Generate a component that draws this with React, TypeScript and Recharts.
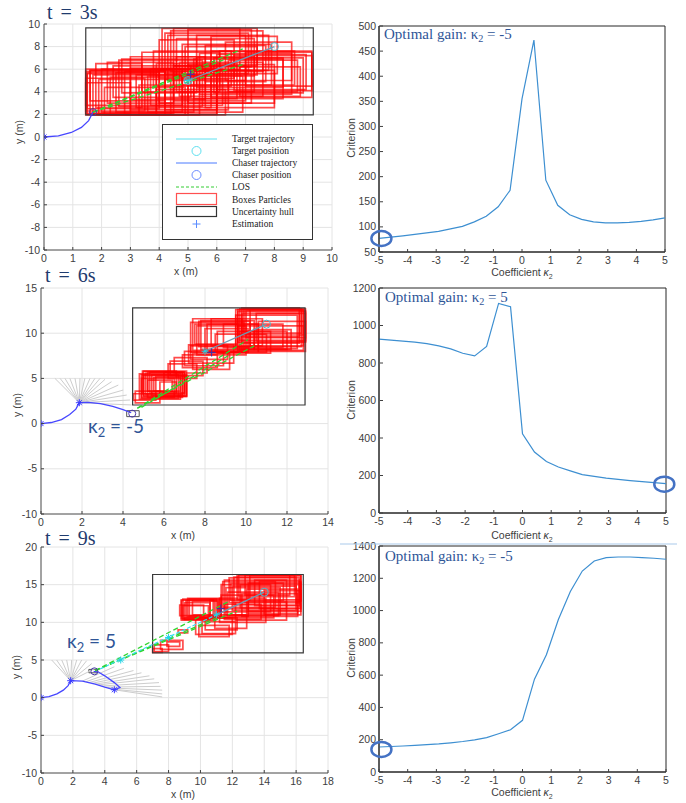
import React from "react";
import {
  ComposedChart,
  LineChart,
  Line,
  Scatter,
  XAxis,
  YAxis,
  CartesianGrid,
  ReferenceArea,
  ReferenceLine,
  ReferenceDot,
} from "recharts";

type Box = [number, number, number, number];
type Pt = { x: number; y: number };

// ---- right column: criterion vs coefficient kappa_2 ----
const kappa = [
  -5, -4.583, -4.167, -3.75, -3.333, -2.917, -2.5, -2.083, -1.667, -1.25, -0.833, -0.417, 0,
  0.417, 0.833, 1.25, 1.667, 2.083, 2.5, 2.917, 3.333, 3.75, 4.167, 4.583, 5,
];
const criterion3s = [
  77, 79.5, 82, 85, 88, 91, 96, 101, 110, 121, 140, 173, 355, 472, 193, 143, 124, 115, 110, 108,
  108, 109, 111, 114, 118,
];
const criterion6s = [
  927, 922, 917, 911, 903, 891, 875, 852, 838, 888, 1118, 1100, 422, 325, 275, 245, 225, 205, 195,
  186, 179, 173, 167, 162, 157,
];
const criterion9s = [
  155, 158, 161, 165, 169, 174, 181, 189, 199, 213, 237, 262, 320, 575, 726, 945, 1118, 1245, 1307,
  1328, 1332, 1332, 1328, 1324, 1318,
];
const kTicks = [-5, -4, -3, -2, -1, 0, 1, 2, 3, 4, 5];
const critTicks3 = [50, 100, 150, 200, 250, 300, 350, 400, 450, 500];
const critTicks6 = [0, 200, 400, 600, 800, 1000, 1200];
const critTicks9 = [0, 200, 400, 600, 800, 1000, 1200, 1400];

// ---- left column: scene at t = 3s / 6s / 9s ----
const xTicks3 = [0, 1, 2, 3, 4, 5, 6, 7, 8, 9, 10];
const yTicks3 = [-10, -8, -6, -4, -2, 0, 2, 4, 6, 8, 10];
const xTicks6 = [0, 2, 4, 6, 8, 10, 12, 14];
const yTicks6 = [-10, -5, 0, 5, 10, 15];
const xTicks9 = [0, 2, 4, 6, 8, 10, 12, 14, 16, 18];
const yTicks9 = [-10, -5, 0, 5, 10, 15, 20];

const hull3: Box = [1.45, 1.95, 9.35, 9.65];
const boxes3: Box[] = [
  [1.45, 1.95, 4.2, 5.8], [1.5, 2.0, 3.9, 5.6], [1.6, 2.1, 4.5, 5.9], [1.45, 2.3, 3.5, 5.2],
  [1.7, 1.95, 5.0, 5.5], [2.0, 2.2, 5.2, 6.0], [2.3, 1.95, 5.4, 5.3], [2.8, 2.0, 6.0, 5.8],
  [3.0, 2.4, 6.0, 6.1], [3.3, 2.0, 6.0, 4.6], [1.8, 2.6, 3.4, 6.5], [2.2, 3.0, 4.5, 6.6],
  [2.6, 2.7, 5.5, 6.8], [1.45, 2.8, 4.8, 6.0], [3.6, 2.2, 6.9, 5.4], [4.0, 3.0, 7.2, 5.9],
  [4.2, 2.4, 6.4, 5.1], [3.9, 3.4, 6.7, 6.5], [3.0, 3.3, 5.6, 7.1], [4.7, 3.6, 7.6, 6.6],
  [5.0, 3.0, 8.0, 6.4], [5.4, 3.8, 8.6, 7.4], [5.8, 3.5, 9.3, 7.6], [6.0, 4.2, 9.1, 7.3],
  [5.3, 4.4, 8.3, 7.0], [6.4, 4.0, 8.8, 6.8], [7.0, 4.5, 9.3, 7.5], [4.8, 4.6, 7.9, 8.2],
  [4.3, 5.0, 7.0, 9.0], [4.0, 5.2, 6.6, 8.6], [4.4, 5.8, 7.6, 9.4], [4.1, 6.0, 6.8, 9.6],
  [5.0, 6.2, 7.2, 9.5], [5.8, 5.6, 8.1, 8.9], [4.9, 5.5, 7.4, 8.0], [6.3, 5.0, 8.6, 8.4],
  [3.4, 4.0, 6.1, 7.5], [2.4, 3.5, 5.1, 6.3], [6.8, 3.6, 8.9, 6.2], [5.6, 2.6, 8.0, 5.9],
  [3.9, 1.95, 6.3, 4.2], [2.1, 1.95, 4.9, 4.4],
  [1.45, 2.1, 3.0, 4.8], [1.5, 2.5, 4.0, 5.7], [1.9, 2.0, 4.4, 5.1], [2.5, 2.2, 4.8, 5.7],
  [3.2, 2.6, 5.8, 5.5], [3.7, 2.8, 6.2, 6.0], [4.5, 3.2, 7.0, 6.3], [5.2, 3.4, 8.3, 6.9],
  [5.9, 3.9, 9.0, 7.0], [6.6, 4.1, 9.3, 7.2], [4.6, 5.4, 7.3, 8.7], [4.2, 5.6, 7.1, 9.2],
  [4.5, 6.3, 7.4, 9.6], [5.3, 5.9, 7.8, 9.0], [3.8, 4.5, 6.5, 7.6], [2.7, 3.9, 5.3, 6.9],
  [1.6, 3.2, 4.2, 5.9], [6.1, 4.6, 8.7, 7.6], [5.6, 4.9, 7.7, 8.1], [4.6, 4.0, 7.3, 7.1],
];
const path3: Pt[] = [
  { x: 0, y: 0 }, { x: 0.5, y: 0.1 }, { x: 0.95, y: 0.4 }, { x: 1.3, y: 0.85 },
  { x: 1.55, y: 1.45 }, { x: 1.7, y: 2.2 },
];
const stars3: Pt[] = [{ x: 0, y: 0 }];
const chaserRing3: Pt[] = [{ x: 1.7, y: 2.2 }];
const los3: Box[] = [[1.7, 2.2, 6.9, 7.8], [1.7, 2.2, 6.9, 6.4], [1.7, 2.2, 6.4, 7.0]];
const targetNext3: Pt[] = [{ x: 5, y: 5 }, { x: 8, y: 8 }];
const targetStars3: Pt[] = [{ x: 5, y: 5 }];
const targetRings3: Pt[] = [{ x: 5, y: 5 }, { x: 8, y: 8 }];
const estimate3: Pt[] = [{ x: 5.09, y: 5.55 }];

const hull6: Box = [4.47, 2.06, 12.88, 12.8];
const boxes6: Box[] = [
  [4.5, 2.6, 5.6, 3.3], [4.6, 2.3, 5.8, 3.6], [4.9, 2.8, 6.7, 5.4], [5.0, 3.0, 7.1, 5.8],
  [5.1, 3.2, 6.9, 5.6], [4.9, 2.9, 6.5, 5.0], [5.3, 3.4, 7.0, 5.7], [5.6, 3.0, 7.1, 5.2],
  [5.2, 3.6, 6.4, 4.8], [5.8, 3.5, 6.6, 4.6], [6.2, 5.0, 7.6, 6.6], [6.5, 5.6, 8.1, 7.3],
  [6.9, 6.2, 8.6, 7.6], [7.4, 6.0, 9.2, 7.8], [7.2, 6.7, 9.4, 8.7], [7.3, 7.9, 9.9, 11.2],
  [7.6, 7.6, 10.0, 10.8], [7.8, 8.2, 10.4, 11.4], [8.0, 7.9, 10.1, 10.5], [8.3, 8.6, 10.8, 11.6],
  [7.5, 8.8, 9.6, 11.0], [8.6, 7.8, 11.2, 10.2], [9.6, 8.1, 12.8, 10.8], [9.5, 8.5, 12.7, 12.6],
  [9.7, 9.2, 12.9, 12.7], [9.8, 8.9, 12.6, 12.2], [10.0, 9.5, 12.9, 12.5], [10.4, 8.2, 12.2, 10.4],
  [9.6, 9.8, 12.8, 12.6], [9.9, 10.0, 12.7, 12.7], [8.9, 8.4, 11.8, 11.0], [10.6, 8.0, 12.9, 11.3],
  [4.8, 2.7, 6.8, 5.5], [5.0, 3.1, 7.0, 5.3], [5.2, 2.9, 6.9, 5.7], [4.95, 3.3, 6.6, 5.8],
  [5.4, 3.1, 7.1, 5.4], [5.5, 3.6, 6.8, 5.1], [6.0, 3.3, 7.0, 5.7], [6.3, 5.3, 7.9, 6.9],
  [7.0, 6.4, 8.9, 8.0], [7.3, 7.1, 9.1, 8.6], [7.4, 8.1, 9.8, 11.6], [7.7, 8.5, 10.2, 11.3],
  [8.1, 8.0, 10.6, 11.0], [9.5, 8.3, 12.5, 12.0], [9.6, 9.0, 12.9, 12.4], [10.2, 8.6, 12.8, 12.6],
  [9.8, 9.6, 12.6, 12.8], [10.5, 9.1, 12.9, 12.2], [9.7, 8.2, 12.0, 10.2], [8.5, 7.9, 11.0, 9.9],
];
const path6: Pt[] = [
  { x: 0, y: 0 }, { x: 0.5, y: 0.12 }, { x: 1.0, y: 0.45 }, { x: 1.4, y: 1.0 }, { x: 1.7, y: 1.6 },
  { x: 1.87, y: 2.31 }, { x: 2.3, y: 2.35 }, { x: 2.9, y: 2.2 }, { x: 3.5, y: 1.9 },
  { x: 4.0, y: 1.55 }, { x: 4.4, y: 1.2 },
];
const stars6: Pt[] = [{ x: 0, y: 0 }, { x: 1.87, y: 2.31 }];
const chaserBox6: Box = [4.18, 0.77, 4.79, 1.43];
const chaserRing6: Pt[] = [{ x: 4.45, y: 1.1 }];
const fans6: Box[] = [
  [1.87, 2.31, 0.68, 5], [1.87, 2.31, 0.93, 5], [1.87, 2.31, 1.17, 5], [1.87, 2.31, 1.41, 5],
  [1.87, 2.31, 1.66, 5], [1.87, 2.31, 1.9, 5], [1.87, 2.31, 2.14, 5], [1.87, 2.31, 2.39, 5],
  [1.87, 2.31, 2.63, 5], [1.87, 2.31, 2.88, 5], [1.87, 2.31, 3.12, 4.89], [1.87, 2.31, 3.44, 4.63],
  [1.87, 2.31, 3.77, 4.26], [1.87, 2.31, 4.01, 3.71], [1.87, 2.31, 4.18, 3.16], [1.87, 2.31, 4.34, 2.61],
  [1.87, 2.31, 4.42, 2.06],
];
const los6: Box[] = [[4.7, 1.7, 10.1, 9.3], [4.7, 1.7, 10.4, 8.6], [4.9, 1.8, 9.2, 7.6]];
const targetNext6: Pt[] = [{ x: 8, y: 8 }, { x: 11, y: 11 }];
const targetStars6: Pt[] = [{ x: 8, y: 8 }];
const targetRings6: Pt[] = [{ x: 11, y: 11 }];
const estimate6: Pt[] = [{ x: 8.32, y: 7.87 }];

const hull9: Box = [7.0, 5.95, 16.45, 16.35];
const boxes9: Box[] = [
  [7.0, 6.0, 7.6, 6.5], [7.1, 6.1, 8.0, 7.0], [7.5, 6.4, 8.9, 7.6], [7.9, 6.8, 8.7, 7.4],
  [8.6, 8.6, 9.2, 9.0], [8.8, 10.3, 10.9, 12.9], [8.9, 10.6, 11.0, 13.1], [9.0, 10.4, 10.6, 12.6],
  [9.2, 10.8, 11.3, 13.2], [8.7, 10.9, 10.2, 12.3], [9.5, 11.0, 11.1, 12.8], [9.7, 8.4, 12.0, 10.6],
  [9.9, 8.1, 11.8, 9.6], [10.3, 9.0, 12.3, 10.6], [10.9, 9.2, 12.9, 11.0], [11.2, 10.0, 14.1, 13.2],
  [11.3, 11.4, 14.4, 15.0], [11.4, 12.0, 14.7, 15.4], [11.6, 11.0, 15.0, 14.6], [11.8, 12.6, 16.2, 15.9],
  [12.3, 13.0, 16.3, 16.2], [12.0, 11.6, 16.0, 14.8], [12.6, 10.8, 16.1, 13.8], [13.0, 11.5, 16.3, 15.2],
  [13.4, 12.2, 16.2, 15.6], [11.5, 10.4, 13.8, 12.4], [14.0, 11.0, 16.3, 14.2], [12.8, 13.6, 15.6, 16.3],
  [11.9, 12.9, 15.2, 15.2], [10.6, 10.8, 13.0, 13.0], [12.2, 10.3, 15.4, 12.7],
  [8.8, 10.5, 10.8, 13.0], [9.1, 10.7, 11.1, 12.9], [8.9, 10.4, 10.5, 12.2], [9.3, 10.9, 11.2, 13.1],
  [11.3, 10.6, 14.6, 13.6], [11.5, 11.8, 15.4, 15.6], [12.1, 12.3, 16.0, 16.0], [12.5, 11.9, 16.2, 15.0],
  [13.1, 12.8, 16.3, 16.2], [11.7, 10.9, 14.9, 14.0], [12.9, 11.2, 16.1, 14.4], [13.7, 11.8, 16.3, 15.4],
  [12.4, 13.4, 15.9, 16.3], [10.1, 8.5, 12.2, 10.1],
];
const path9: Pt[] = [
  { x: 0, y: 0 }, { x: 0.5, y: 0.15 }, { x: 1.0, y: 0.5 }, { x: 1.4, y: 1.0 }, { x: 1.7, y: 1.6 },
  { x: 1.86, y: 2.25 }, { x: 2.6, y: 2.2 }, { x: 3.4, y: 1.8 }, { x: 4.0, y: 1.4 }, { x: 4.6, y: 1.05 },
  { x: 4.95, y: 1.35 }, { x: 4.6, y: 2.0 }, { x: 4.0, y: 2.9 }, { x: 3.6, y: 3.4 }, { x: 3.3, y: 3.5 },
];
const stars9: Pt[] = [{ x: 0, y: 0 }, { x: 1.86, y: 2.25 }, { x: 4.6, y: 1.05 }];
const chaserBox9: Box = [3.0, 3.3, 3.5, 3.75];
const chaserRing9: Pt[] = [{ x: 3.35, y: 3.5 }];
const fans9: Box[] = [
  [1.86, 2.25, 0.67, 5], [1.86, 2.25, 0.98, 5], [1.86, 2.25, 1.3, 5], [1.86, 2.25, 1.61, 5],
  [1.86, 2.25, 1.92, 5], [1.86, 2.25, 2.24, 5], [1.86, 2.25, 2.55, 5], [1.86, 2.25, 2.86, 4.9],
  [1.86, 2.25, 3.18, 4.52], [1.86, 2.25, 3.38, 3.86],
  [2.6, 2.2, 4.6, 4.1], [2.8, 2.1, 5.2, 3.9], [3.0, 2.0, 5.8, 3.6], [3.2, 1.9, 6.3, 3.3],
  [3.4, 1.8, 6.8, 2.9], [3.6, 1.7, 7.1, 2.5], [3.8, 1.55, 7.4, 2.0], [4.0, 1.4, 7.5, 1.5],
  [4.2, 1.3, 7.6, 1.0], [4.4, 1.15, 7.6, 0.5], [4.6, 1.05, 7.6, 0.1],
];
const los9: Box[] = [[3.4, 3.6, 11.8, 12.8], [3.4, 3.6, 12.3, 11.5], [3.4, 3.6, 11.0, 10.6]];
const targetPast9: Pt[] = [{ x: 3.7, y: 3.8 }, { x: 11, y: 11 }];
const targetNext9: Pt[] = [{ x: 11, y: 11 }, { x: 14, y: 14 }];
const targetStars9: Pt[] = [{ x: 5, y: 5 }, { x: 8, y: 8 }, { x: 11, y: 11 }];
const targetRings9: Pt[] = [{ x: 14, y: 14 }];
const estimate9: Pt[] = [{ x: 11.28, y: 11.82 }];

const legendItems = [
  "Target trajectory",
  "Target position",
  "Chaser trajectory",
  "Chaser position",
  "LOS",
  "Boxes Particles",
  "Uncertainty hull",
  "Estimation",
];

const SANS = "'Liberation Sans', Arial, sans-serif";
const SERIF = "'Liberation Serif', 'Times New Roman', serif";
const AXIS = "#404040";
const NOTE = "#2f5597";

const makeXTick = (m: number) => (p: any) => (
  <g>
    <line x1={p.x} x2={p.x} y1={p.y - m} y2={p.y - m - 3} stroke={AXIS} />
    <text x={p.x} y={p.y + 8} textAnchor="middle" fontSize={10.5} fill={AXIS} fontFamily={SANS}>
      {p.payload.value}
    </text>
  </g>
);
const yTick = (p: any) => (
  <g>
    <line x1={p.x + 4} x2={p.x + 7} y1={p.y} y2={p.y} stroke={AXIS} />
    <text x={p.x} y={p.y + 3.5} textAnchor="end" fontSize={10.5} fill={AXIS} fontFamily={SANS}>
      {p.payload.value}
    </text>
  </g>
);

const asterisk = (color: string) => (p: any) => (
  <g stroke={color} strokeWidth={1}>
    <line x1={p.cx - 3.5} y1={p.cy} x2={p.cx + 3.5} y2={p.cy} />
    <line x1={p.cx} y1={p.cy - 3.5} x2={p.cx} y2={p.cy + 3.5} />
    <line x1={p.cx - 2.5} y1={p.cy - 2.5} x2={p.cx + 2.5} y2={p.cy + 2.5} />
    <line x1={p.cx - 2.5} y1={p.cy + 2.5} x2={p.cx + 2.5} y2={p.cy - 2.5} />
  </g>
);
const ring = (color: string, r: number) => (p: any) => (
  <circle cx={p.cx} cy={p.cy} r={r} fill="none" stroke={color} strokeWidth={1} />
);
const plus = (color: string) => (p: any) => (
  <g stroke={color} strokeWidth={1.2}>
    <line x1={p.cx - 4} y1={p.cy} x2={p.cx + 4} y2={p.cy} />
    <line x1={p.cx} y1={p.cy - 4} x2={p.cx} y2={p.cy + 4} />
  </g>
);

interface TrackProps {
  top: number;
  height: number;
  marginTop: number;
  yw: number;
  right: number;
  xMax: number;
  xTicks: number[];
  yMin: number;
  yMax: number;
  yTicks: number[];
  hull: Box;
  boxes: Box[];
  fans: Box[];
  los: Box[];
  path: Pt[];
  stars: Pt[];
  chaserRing: Pt[];
  chaserBox?: Box;
  targetPast?: Pt[];
  targetNext: Pt[];
  targetStars: Pt[];
  targetRings: Pt[];
  estimate: Pt[];
}

function TrackPanel(p: TrackProps) {
  return (
    <div style={{ position: "absolute", left: 0, top: p.top }}>
      <ComposedChart
        width={340}
        height={p.height}
        margin={{ top: p.marginTop, right: p.right, bottom: 0, left: 0 }}
      >
        <CartesianGrid stroke="#e4e4e4" />
        <XAxis
          type="number"
          dataKey="x"
          domain={[0, p.xMax]}
          ticks={p.xTicks}
          interval={0}
          allowDataOverflow
          height={30}
          tickSize={0}
          tickMargin={4}
          tick={makeXTick(4)}
          stroke="#555"
        />
        <YAxis
          type="number"
          dataKey="y"
          domain={[p.yMin, p.yMax]}
          ticks={p.yTicks}
          interval={0}
          allowDataOverflow
          width={p.yw}
          tickSize={0}
          tickMargin={4}
          tick={yTick}
          stroke="#555"
        />
        {p.fans.map((f, i) => (
          <ReferenceLine
            key={"f" + i}
            segment={[{ x: f[0], y: f[1] }, { x: f[2], y: f[3] }]}
            stroke="#cdcdcd"
            strokeWidth={1}
          />
        ))}
        {p.boxes.map((b, i) => (
          <ReferenceArea
            key={"b" + i}
            x1={b[0]}
            y1={b[1]}
            x2={b[2]}
            y2={b[3]}
            fill="none"
            stroke="#ff0000"
            strokeOpacity={0.7}
            strokeWidth={1.7}
          />
        ))}
        <ReferenceArea
          x1={p.hull[0]}
          y1={p.hull[1]}
          x2={p.hull[2]}
          y2={p.hull[3]}
          fill="none"
          stroke="#3a3a3a"
          strokeWidth={1.2}
        />
        {p.chaserBox && (
          <ReferenceArea
            x1={p.chaserBox[0]}
            y1={p.chaserBox[1]}
            x2={p.chaserBox[2]}
            y2={p.chaserBox[3]}
            fill="none"
            stroke="#555"
            strokeWidth={1}
          />
        )}
        {p.los.map((l, i) => (
          <ReferenceLine
            key={"l" + i}
            segment={[{ x: l[0], y: l[1] }, { x: l[2], y: l[3] }]}
            stroke="#2fd42f"
            strokeWidth={1.3}
            strokeDasharray="5 3"
          />
        ))}
        <Line data={p.path} dataKey="y" type="linear" stroke="#4646ff" strokeWidth={1.3} dot={false} isAnimationActive={false} />
        {p.targetPast && (
          <Line data={p.targetPast} dataKey="y" type="linear" stroke="#33e0f0" strokeWidth={1.2} strokeDasharray="4 2" dot={false} isAnimationActive={false} />
        )}
        <Line data={p.targetNext} dataKey="y" type="linear" stroke="#6d9cb5" strokeWidth={1.3} dot={false} isAnimationActive={false} />
        <Scatter data={p.stars} shape={asterisk("#3a3aff")} isAnimationActive={false} />
        <Scatter data={p.chaserRing} shape={ring("#4a3aa8", 3.5)} isAnimationActive={false} />
        <Scatter data={p.targetStars} shape={asterisk("#22d3e6")} isAnimationActive={false} />
        <Scatter data={p.targetRings} shape={ring("#4fb8cc", 4)} isAnimationActive={false} />
        <Scatter data={p.estimate} shape={plus("#4b2fa0")} isAnimationActive={false} />
      </ComposedChart>
    </div>
  );
}

interface CritProps {
  top: number;
  height: number;
  marginTop: number;
  right: number;
  values: number[];
  yMin: number;
  yMax: number;
  yTicks: number[];
  best: Pt;
  shift: number;
}

function CriterionPanel(p: CritProps) {
  const data = kappa.map((k, i) => ({ k, c: p.values[i] }));
  return (
    <div style={{ position: "absolute", left: 340, top: p.top }}>
      <LineChart
        width={346}
        height={p.height}
        data={data}
        margin={{ top: p.marginTop, right: p.right, bottom: 0, left: 0 }}
      >
        <XAxis
          type="number"
          dataKey="k"
          domain={[-5, 5]}
          ticks={kTicks}
          interval={0}
          height={30}
          tickSize={0}
          tickMargin={4}
          tick={makeXTick(4)}
          stroke="#262626"
        />
        <YAxis
          type="number"
          domain={[p.yMin, p.yMax]}
          ticks={p.yTicks}
          interval={0}
          width={39}
          tickSize={0}
          tickMargin={3}
          tick={yTick}
          stroke="#262626"
        />
        <ReferenceArea x1={-5} x2={5} y1={p.yMin} y2={p.yMax} fill="none" stroke="#262626" strokeWidth={1} />
        <Line dataKey="c" type="linear" stroke="#3d8fd1" strokeWidth={1.2} dot={false} isAnimationActive={false} />
        <ReferenceDot
          x={p.best.x}
          y={p.best.y}
          shape={(s: any) => (
            <ellipse cx={s.cx + p.shift} cy={s.cy} rx={10} ry={7.5} fill="none" stroke="#4472c4" strokeWidth={2.5} />
          )}
        />
      </LineChart>
    </div>
  );
}

const Kappa = ({ size }: { size: number }) => (
  <>
    κ<tspan fontSize={size * 0.68} dy={size * 0.2}>2</tspan>
    <tspan dy={-size * 0.2}> </tspan>
  </>
);

export default function App() {
  const lbl = { fontSize: 10.5, fill: AXIS, fontFamily: SANS, textAnchor: "middle" as const };
  return (
    <div style={{ position: "absolute", left: 0, top: 0, width: 686, height: 803, background: "#fff", overflow: "hidden" }}>
      <TrackPanel
        top={0} height={280} marginTop={24} yw={44} right={8}
        xMax={10} xTicks={xTicks3} yMin={-10} yMax={10} yTicks={yTicks3}
        hull={hull3} boxes={boxes3} fans={[]} los={los3} path={path3} stars={stars3}
        chaserRing={chaserRing3} targetNext={targetNext3} targetStars={targetStars3}
        targetRings={targetRings3} estimate={estimate3}
      />
      <TrackPanel
        top={265} height={279} marginTop={23} yw={41} right={12}
        xMax={14} xTicks={xTicks6} yMin={-10} yMax={15} yTicks={yTicks6}
        hull={hull6} boxes={boxes6} fans={fans6} los={los6} path={path6} stars={stars6}
        chaserRing={chaserRing6} chaserBox={chaserBox6} targetNext={targetNext6}
        targetStars={targetStars6} targetRings={targetRings6} estimate={estimate6}
      />
      <TrackPanel
        top={530} height={273} marginTop={17} yw={41} right={12}
        xMax={18} xTicks={xTicks9} yMin={-10} yMax={20} yTicks={yTicks9}
        hull={hull9} boxes={boxes9} fans={fans9} los={los9} path={path9} stars={stars9}
        chaserRing={chaserRing9} chaserBox={chaserBox9} targetPast={targetPast9}
        targetNext={targetNext9} targetStars={targetStars9} targetRings={targetRings9}
        estimate={estimate9}
      />
      <CriterionPanel top={0} height={282} marginTop={26} right={21} values={criterion3s}
        yMin={50} yMax={500} yTicks={critTicks3} best={{ x: -5, y: 77 }} shift={2.4} />
      <CriterionPanel top={265} height={278} marginTop={23} right={20} values={criterion6s}
        yMin={0} yMax={1200} yTicks={critTicks6} best={{ x: 5, y: 154 }} shift={-1.7} />
      <CriterionPanel top={530} height={272} marginTop={16} right={20} values={criterion9s}
        yMin={0} yMax={1400} yTicks={critTicks9} best={{ x: -5, y: 140 }} shift={2.4} />

      <svg width={686} height={803} style={{ position: "absolute", left: 0, top: 0, pointerEvents: "none" }}>
        {/* titles */}
        <g fontFamily={SERIF} fontSize={20} fill="#1f3b6e" wordSpacing={3}>
          <text x={47} y={19}>t = 3s</text>
          <text x={45} y={282}>t = 6s</text>
          <text x={45} y={545}>t = 9s</text>
        </g>
        {/* axis titles, left column */}
        <text x={186} y={275} {...lbl}>x (m)</text>
        <text x={183} y={539} {...lbl}>x (m)</text>
        <text x={183} y={798} {...lbl}>x (m)</text>
        <text transform="translate(23,132) rotate(-90)" {...lbl}>y (m)</text>
        <text transform="translate(21,405) rotate(-90)" {...lbl}>y (m)</text>
        <text transform="translate(20,667) rotate(-90)" {...lbl}>y (m)</text>
        {/* axis titles, right column */}
        <text transform="translate(355,138) rotate(-90)" {...lbl}>Criterion</text>
        <text transform="translate(355,400) rotate(-90)" {...lbl}>Criterion</text>
        <text transform="translate(355,658) rotate(-90)" {...lbl}>Criterion</text>
        <text x={522} y={276} {...lbl}>Coefficient <tspan fontStyle="italic">κ</tspan><tspan fontSize={7} dy={3}>2</tspan></text>
        <text x={522} y={539} {...lbl}>Coefficient <tspan fontStyle="italic">κ</tspan><tspan fontSize={7} dy={3}>2</tspan></text>
        <text x={522} y={796} {...lbl}>Coefficient <tspan fontStyle="italic">κ</tspan><tspan fontSize={7} dy={3}>2</tspan></text>
        {/* annotations */}
        <g fontFamily={SERIF} fontSize={15} fill={NOTE}>
          <text x={384} y={39}>Optimal gain: <Kappa size={15} />= -5</text>
          <text x={385} y={302}>Optimal gain: <Kappa size={15} />= 5</text>
          <text x={385} y={561}>Optimal gain: <Kappa size={15} />= -5</text>
        </g>
        <g fontFamily="Lato, 'Liberation Sans', sans-serif" fontSize={19} fill={NOTE}>
          <text x={88} y={433}><Kappa size={19} />= -5</text>
          <text x={67} y={648}><Kappa size={19} />= 5</text>
        </g>
        <line x1={340} x2={677} y1={544} y2={544} stroke="#a9c9ea" strokeWidth={1} />
        {/* legend of the t = 3s scene */}
        <g>
          <rect x={162.5} y={124.5} width={150} height={115} fill="#fff" stroke="#333" />
          <line x1={176} x2={217} y1={139} y2={139} stroke="#5ee0f0" />
          <circle cx={196.5} cy={151} r={4.5} fill="none" stroke="#5ee0f0" />
          <line x1={176} x2={217} y1={163} y2={163} stroke="#4b7bff" />
          <circle cx={196.5} cy={175} r={4.5} fill="none" stroke="#6b8cff" />
          <line x1={176} x2={217} y1={187} y2={187} stroke="#33cc33" strokeDasharray="3 2" />
          <rect x={176.5} y={193.5} width={40} height={11} fill="none" stroke="#ff5050" strokeWidth={1.2} />
          <rect x={176.5} y={206.5} width={40} height={10} fill="none" stroke="#333" strokeWidth={1.2} />
          <line x1={192.5} x2={200.5} y1={224} y2={224} stroke="#5a8cff" />
          <line x1={196.5} x2={196.5} y1={220} y2={228} stroke="#5a8cff" />
          {legendItems.map((t, i) => (
            <text key={t} x={232} y={142 + i * 12.1} fontFamily={SERIF} fontSize={9.5} fill="#222">
              {t}
            </text>
          ))}
        </g>
      </svg>
    </div>
  );
}
